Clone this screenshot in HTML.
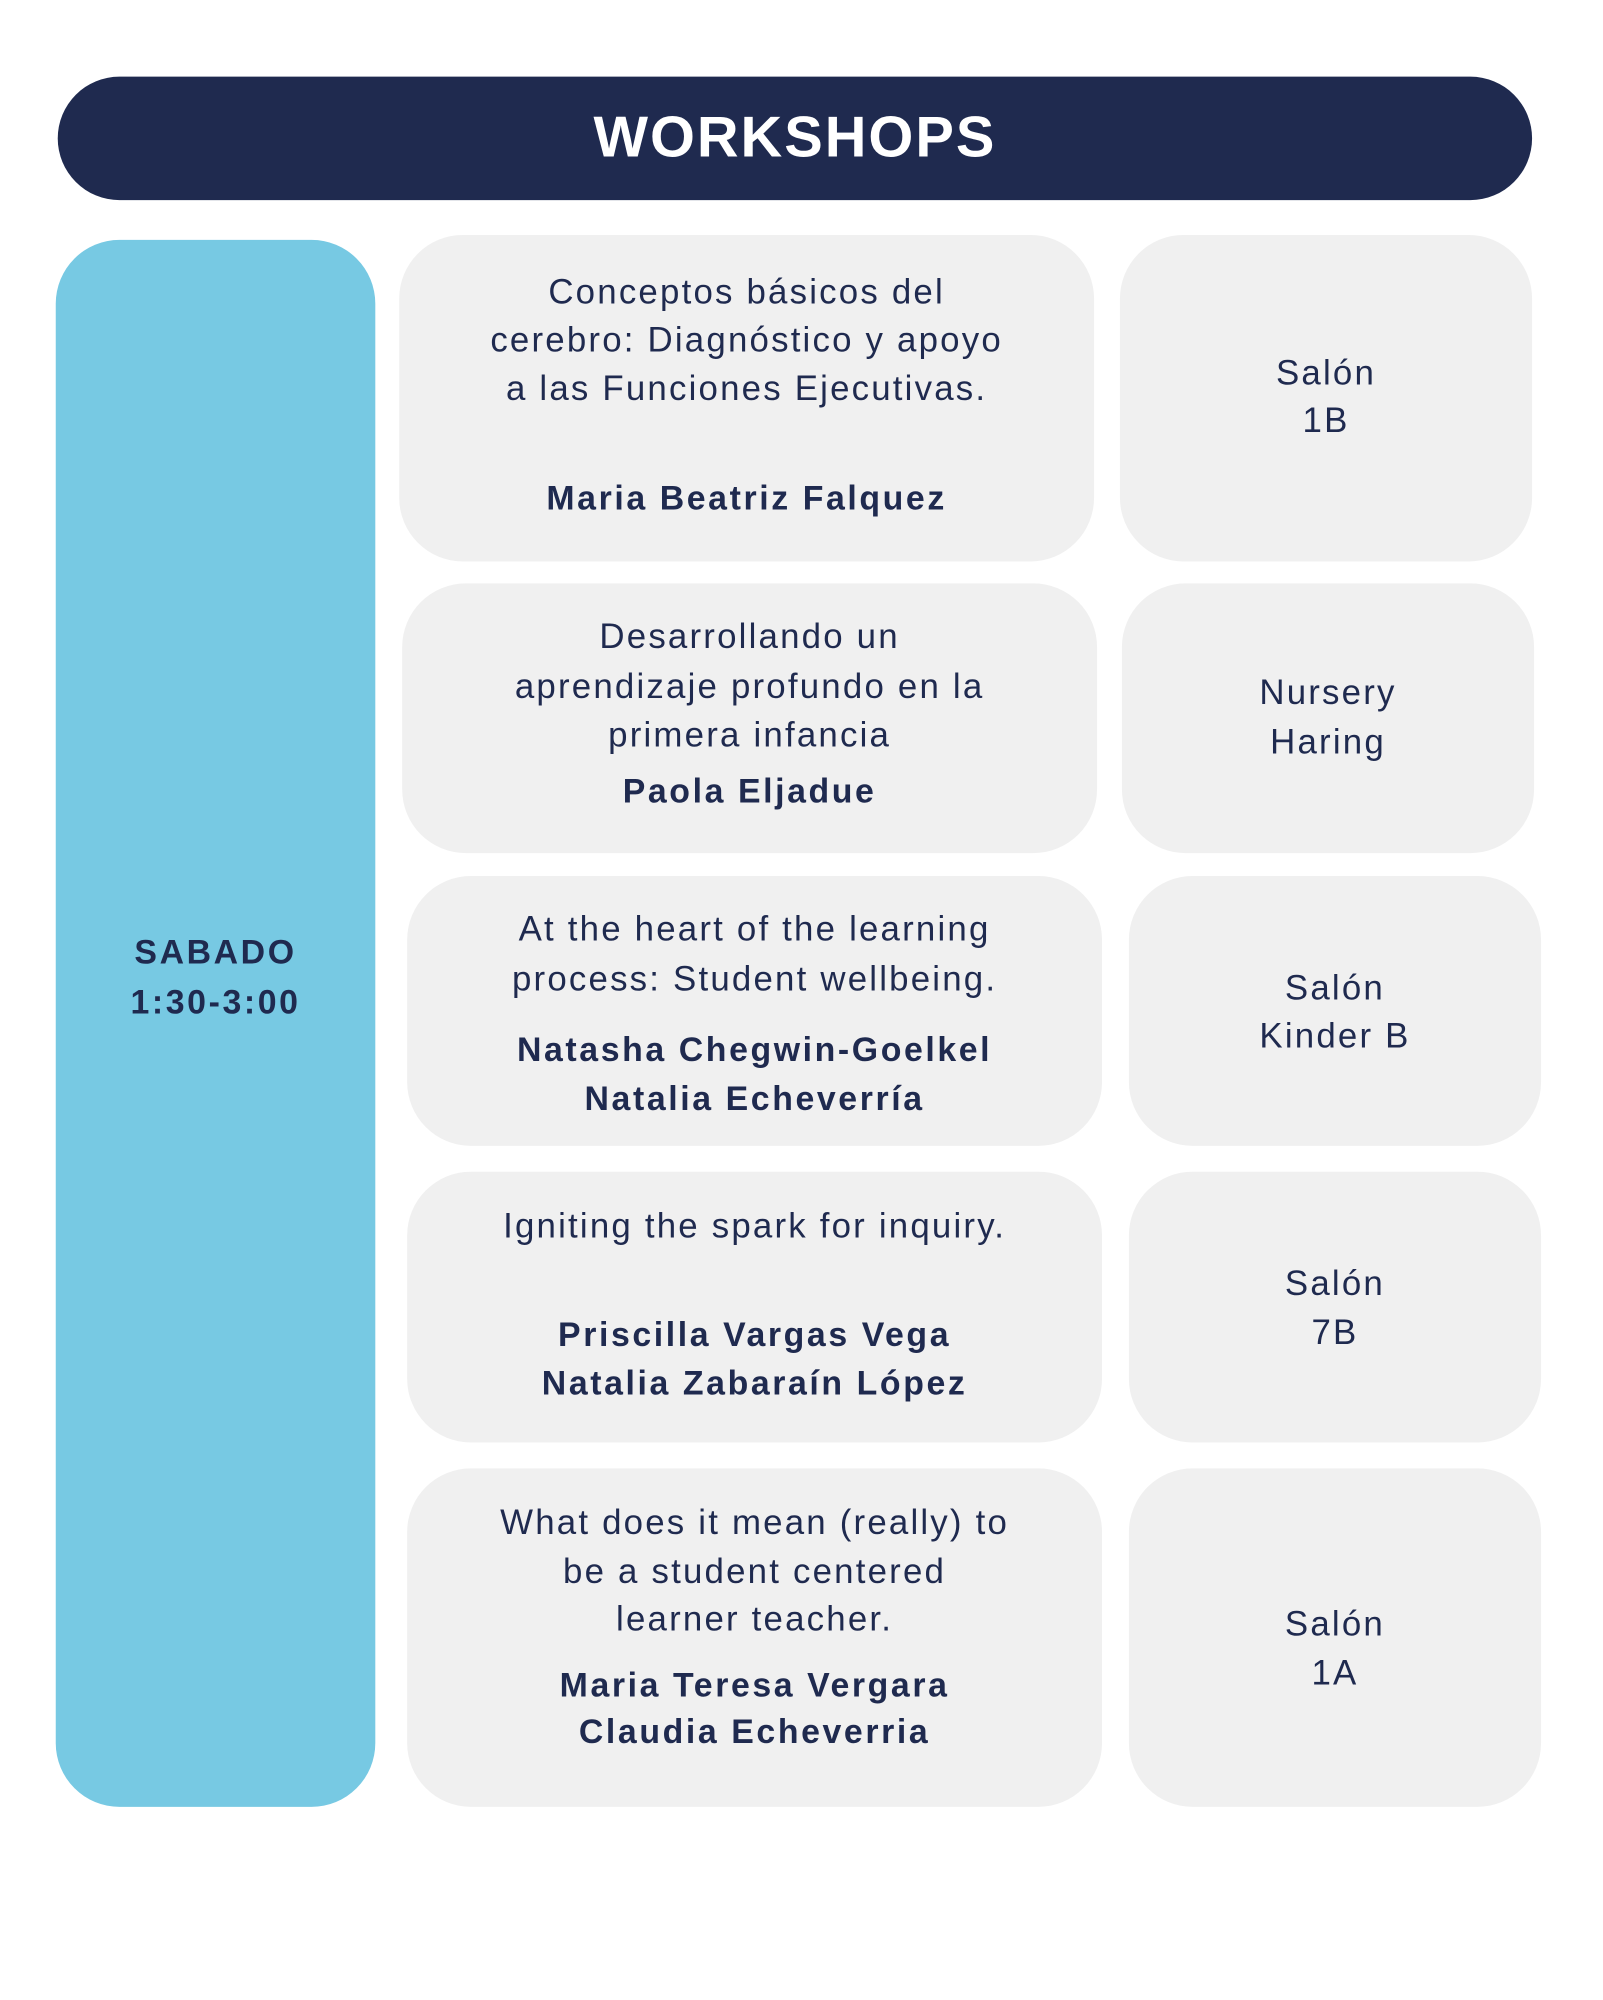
<!DOCTYPE html>
<html><head><meta charset="utf-8">
<style>
html,body{margin:0;padding:0;background:#fff;}
body{width:1603px;height:2000px;position:relative;overflow:hidden;font-family:"Liberation Sans",sans-serif;color:#1f2a4f;}
#wrap{position:absolute;left:0;top:0;width:1603px;height:2000px;transform:scale(0.9955);transform-origin:0 0;}
.box{position:absolute;border-radius:64px;background:#f0f0f0;}
.ln{position:absolute;height:50px;line-height:50px;text-align:center;font-size:35px;letter-spacing:2.2px;white-space:nowrap;}
.b{font-weight:bold;font-size:34px;letter-spacing:2.6px;}
</style></head><body><div id="wrap">
<div style="position:absolute;left:58px;top:77px;width:1481px;height:124px;border-radius:62px;background:#1f2a4f;"></div>
<div class="ln b" style="left:58px;width:1481px;top:113px;color:#fff;font-size:58px;letter-spacing:2px;">WORKSHOPS</div>

<div style="position:absolute;left:56px;top:241px;width:321px;height:1574px;border-radius:64px;background:#77c9e3;"></div>
<div class="ln b" style="left:56px;width:321px;top:932px;">SABADO</div>
<div class="ln b" style="left:56px;width:321px;top:982px;">1:30-3:00</div>

<div class="box" style="left:401px;top:236px;width:698px;height:328px;"></div>
<div class="box" style="left:1125px;top:236px;width:414px;height:328px;"></div>
<div>
<div class="ln" style="left:401px;width:698px;top:269px;">Conceptos básicos del</div>
<div class="ln" style="left:401px;width:698px;top:317px;">cerebro: Diagnóstico y apoyo</div>
<div class="ln" style="left:401px;width:698px;top:366px;">a las Funciones Ejecutivas.</div>
</div>
<div class="ln b" style="left:401px;width:698px;top:476px;">Maria Beatriz Falquez</div>
<div>
<div class="ln" style="left:1125px;width:414px;top:350px;">Salón</div>
<div class="ln" style="left:1125px;width:414px;top:398px;">1B</div>
</div>

<div class="box" style="left:404px;top:586px;width:698px;height:271px;"></div>
<div class="box" style="left:1127px;top:586px;width:414px;height:271px;"></div>
<div>
<div class="ln" style="left:404px;width:698px;top:615px;">Desarrollando un</div>
<div class="ln" style="left:404px;width:698px;top:665px;">aprendizaje profundo en la</div>
<div class="ln" style="left:404px;width:698px;top:714px;">primera infancia</div>
</div>
<div class="ln b" style="left:404px;width:698px;top:770px;">Paola Eljadue</div>
<div>
<div class="ln" style="left:1127px;width:414px;top:671px;">Nursery</div>
<div class="ln" style="left:1127px;width:414px;top:721px;">Haring</div>
</div>

<div class="box" style="left:409px;top:880px;width:698px;height:271px;"></div>
<div class="box" style="left:1134px;top:880px;width:414px;height:271px;"></div>
<div>
<div class="ln" style="left:409px;width:698px;top:909px;">At the heart of the learning</div>
<div class="ln" style="left:409px;width:698px;top:959px;">process: Student wellbeing.</div>
</div>
<div>
<div class="ln b" style="left:409px;width:698px;top:1030px;">Natasha Chegwin-Goelkel</div>
<div class="ln b" style="left:409px;width:698px;top:1079px;">Natalia Echeverría</div>
</div>
<div>
<div class="ln" style="left:1134px;width:414px;top:968px;">Salón</div>
<div class="ln" style="left:1134px;width:414px;top:1016px;">Kinder B</div>
</div>

<div class="box" style="left:409px;top:1177px;width:698px;height:272px;"></div>
<div class="box" style="left:1134px;top:1177px;width:414px;height:272px;"></div>
<div class="ln" style="left:409px;width:698px;top:1207px;">Igniting the spark for inquiry.</div>
<div>
<div class="ln b" style="left:409px;width:698px;top:1316px;">Priscilla Vargas Vega</div>
<div class="ln b" style="left:409px;width:698px;top:1365px;">Natalia Zabaraín López</div>
</div>
<div>
<div class="ln" style="left:1134px;width:414px;top:1265px;">Salón</div>
<div class="ln" style="left:1134px;width:414px;top:1314px;">7B</div>
</div>

<div class="box" style="left:409px;top:1475px;width:698px;height:340px;"></div>
<div class="box" style="left:1134px;top:1475px;width:414px;height:340px;"></div>
<div>
<div class="ln" style="left:409px;width:698px;top:1505px;">What does it mean (really) to</div>
<div class="ln" style="left:409px;width:698px;top:1554px;">be a student centered</div>
<div class="ln" style="left:409px;width:698px;top:1602px;">learner teacher.</div>
</div>
<div>
<div class="ln b" style="left:409px;width:698px;top:1668px;">Maria Teresa Vergara</div>
<div class="ln b" style="left:409px;width:698px;top:1715px;">Claudia Echeverria</div>
</div>
<div>
<div class="ln" style="left:1134px;width:414px;top:1607px;">Salón</div>
<div class="ln" style="left:1134px;width:414px;top:1656px;">1A</div>
</div>
</div></body></html>
